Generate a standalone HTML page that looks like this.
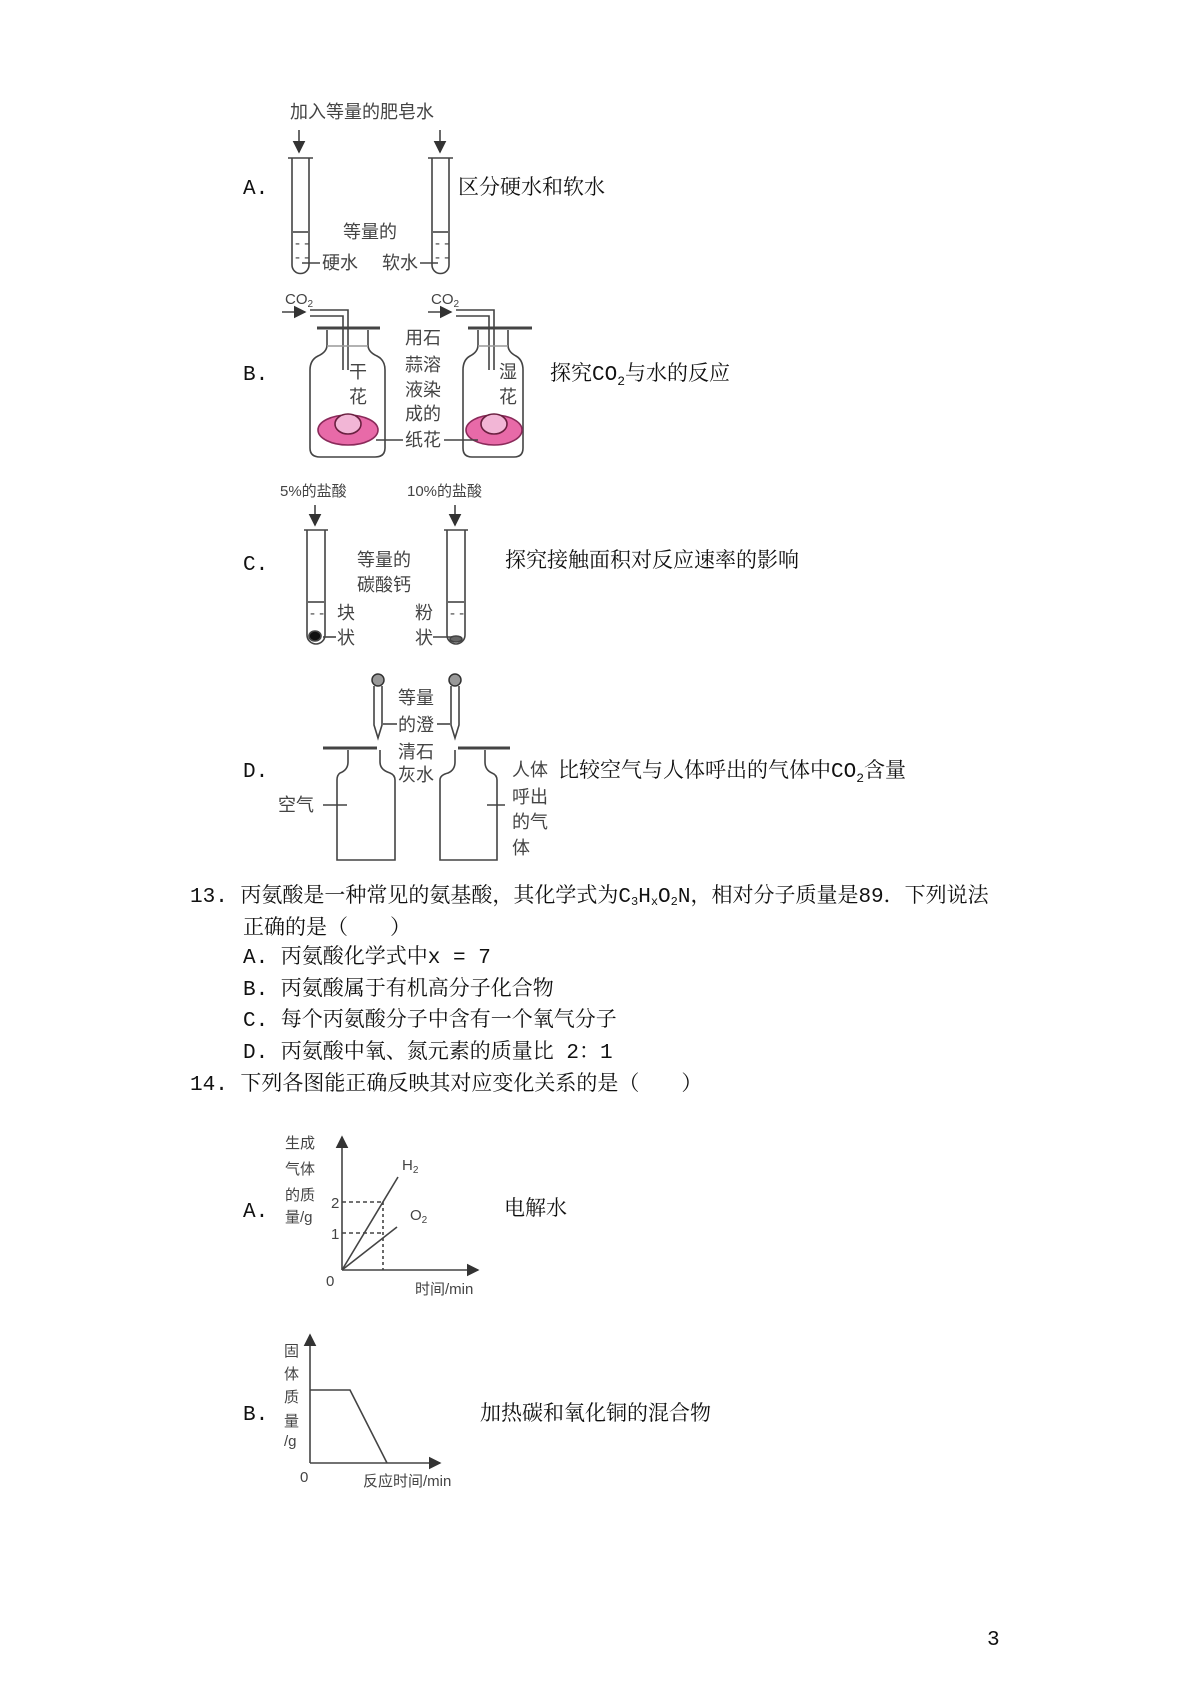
<!DOCTYPE html>
<html><head><meta charset="utf-8"><style>
html,body{margin:0;padding:0;background:#fff;}
svg{display:block;}
.t{font-family:"Liberation Mono","Noto Serif CJK SC",serif;font-size:21px;fill:#111;}
.d{font-family:"Liberation Sans","Noto Sans CJK SC",sans-serif;font-size:18px;fill:#444;}
.s{font-family:"Liberation Sans","Noto Sans CJK SC",sans-serif;font-size:15px;fill:#444;}
line,path,polyline,rect,ellipse{stroke:#444;stroke-width:1.6;fill:none;}
</style></head><body>
<svg width="1200" height="1698" viewBox="0 0 1200 1698" xmlns="http://www.w3.org/2000/svg">
<defs><marker id="ar" markerWidth="8" markerHeight="8" refX="7" refY="4" orient="auto"><path d="M0,0 L8,4 L0,8 z" style="fill:#333;stroke:none"/></marker></defs>

<!-- A -->
<text class="t" x="243" y="194">A.</text>
<text class="d" x="290" y="118">加入等量的肥皂水</text>
<line x1="299" y1="130" x2="299" y2="152" marker-end="url(#ar)"/>
<line x1="440" y1="130" x2="440" y2="152" marker-end="url(#ar)"/>
<path d="M292,158 V265 a8.5,8.5 0 0 0 17,0 V158 M288,158 h25"/>
<path d="M432,158 V265 a8.5,8.5 0 0 0 17,0 V158 M428,158 h25"/>
<line x1="293" y1="232" x2="308" y2="232"/><line x1="433" y1="232" x2="448" y2="232"/>
<text class="s" x="295" y="248">- -</text><text class="s" x="295" y="262">- -</text>
<text class="s" x="435" y="248">- -</text><text class="s" x="435" y="262">- -</text>
<text class="d" x="343" y="238">等量的</text>
<line x1="302" y1="263" x2="320" y2="263"/><text class="d" x="322" y="269">硬水</text>
<text class="d" x="382" y="269">软水</text><line x1="420" y1="263" x2="438" y2="263"/>
<text class="t" x="458" y="194">区分硬水和软水</text>

<!-- B -->
<text class="t" x="243" y="380">B.</text>
<text class="s" x="285" y="304">CO<tspan font-size="10" dy="3">2</tspan></text>
<text class="s" x="431" y="304">CO<tspan font-size="10" dy="3">2</tspan></text>
<line x1="282" y1="312" x2="305" y2="312" marker-end="url(#ar)"/>
<line x1="428" y1="312" x2="451" y2="312" marker-end="url(#ar)"/>
<path d="M310,310 H348 V370 M310,316 H343 V370"/>
<path d="M456,310 H494 V370 M456,316 H489 V370"/>
<g>
<line x1="317" y1="328" x2="380" y2="328" style="stroke-width:3"/>
<path d="M327,330 V345 Q327,352 318,356 Q310,360 310,370 V448 Q310,457 320,457 H375 Q385,457 385,448 V370 Q385,360 377,356 Q368,352 368,345 V330"/>
<line x1="327" y1="346" x2="368" y2="346" style="stroke:#999"/>
<line x1="468" y1="328" x2="532" y2="328" style="stroke-width:3"/>
<path d="M478,330 V345 Q478,352 470,356 Q463,360 463,370 V448 Q463,457 472,457 H514 Q523,457 523,448 V370 Q523,360 516,356 Q508,352 508,345 V330"/>
<line x1="478" y1="346" x2="508" y2="346" style="stroke:#999"/>
</g>
<ellipse cx="348" cy="430" rx="30" ry="15" style="fill:#e86aa8;stroke:#8a2a5a"/>
<ellipse cx="348" cy="424" rx="13" ry="10" style="fill:#f2b6d6;stroke:#6a2040"/>
<ellipse cx="494" cy="430" rx="28" ry="15" style="fill:#e86aa8;stroke:#8a2a5a"/>
<ellipse cx="494" cy="424" rx="13" ry="10" style="fill:#f2b6d6;stroke:#6a2040"/>
<text class="d" x="349" y="378">干</text><text class="d" x="349" y="403">花</text>
<text class="d" x="499" y="378">湿</text><text class="d" x="499" y="403">花</text>
<text class="d" x="405" y="344">用石</text><text class="d" x="405" y="371">蒜溶</text>
<text class="d" x="405" y="396">液染</text><text class="d" x="405" y="420">成的</text>
<text class="d" x="405" y="446">纸花</text>
<line x1="376" y1="440" x2="403" y2="440"/><line x1="444" y1="440" x2="478" y2="440"/>
<text class="t" x="550" y="380">探究CO<tspan font-size="13" dy="5">2</tspan><tspan dy="-5">与水的反应</tspan></text>

<!-- C -->
<text class="t" x="243" y="570">C.</text>
<text class="s" x="280" y="496">5%的盐酸</text>
<text class="s" x="407" y="496">10%的盐酸</text>
<line x1="315" y1="505" x2="315" y2="525" marker-end="url(#ar)"/>
<line x1="455" y1="505" x2="455" y2="525" marker-end="url(#ar)"/>
<path d="M307,530 V635 a9,9 0 0 0 18,0 V530 M304,530 h24"/>
<path d="M447,530 V635 a9,9 0 0 0 18,0 V530 M444,530 h24"/>
<line x1="308" y1="602" x2="324" y2="602"/><line x1="448" y1="602" x2="464" y2="602"/>
<text class="s" x="310" y="618">- -</text><text class="s" x="450" y="618">- -</text>
<ellipse cx="315" cy="636" rx="6" ry="5" style="fill:#111"/>
<ellipse cx="456" cy="639" rx="6" ry="3" style="fill:#666"/>
<text class="d" x="357" y="566">等量的</text><text class="d" x="357" y="591">碳酸钙</text>
<text class="d" x="337" y="619">块</text><text class="d" x="337" y="644">状</text>
<line x1="323" y1="637" x2="336" y2="637"/>
<text class="d" x="415" y="619">粉</text><text class="d" x="415" y="644">状</text>
<line x1="433" y1="637" x2="452" y2="637"/>
<text class="t" x="505" y="567">探究接触面积对反应速率的影响</text>

<!-- D -->
<text class="t" x="243" y="777">D.</text>
<circle cx="378" cy="680" r="6" style="fill:#999;stroke:#333;stroke-width:1.5"/>
<path d="M374,686 V725 L378,738 L382,725 V686"/>
<circle cx="455" cy="680" r="6" style="fill:#999;stroke:#333;stroke-width:1.5"/>
<path d="M451,686 V725 L455,738 L459,725 V686"/>
<line x1="383" y1="724" x2="397" y2="724"/><line x1="437" y1="724" x2="450" y2="724"/>
<text class="d" x="398" y="704">等量</text><text class="d" x="398" y="731">的澄</text>
<text class="d" x="398" y="758">清石</text><text class="d" x="398" y="781">灰水</text>
<line x1="323" y1="748" x2="377" y2="748" style="stroke-width:3"/>
<path d="M348,750 V762 Q348,770 340,773 Q337,775 337,780 V860 H395 V780 Q395,775 390,773 Q380,770 380,762 V750"/>
<line x1="458" y1="748" x2="510" y2="748" style="stroke-width:3"/>
<path d="M455,750 V762 Q455,770 448,773 Q440,775 440,780 V860 H497 V780 Q497,775 492,773 Q485,770 485,762 V750"/>
<text class="d" x="278" y="811">空气</text><line x1="323" y1="805" x2="347" y2="805"/>
<line x1="487" y1="805" x2="505" y2="805"/>
<text class="d" x="512" y="776">人体</text><text class="d" x="512" y="803">呼出</text>
<text class="d" x="512" y="828">的气</text><text class="d" x="512" y="854">体</text>
<text class="t" x="558" y="777">比较空气与人体呼出的气体中CO<tspan font-size="13" dy="5">2</tspan><tspan dy="-5">含量</tspan></text>

<!-- Q13 -->
<text class="t" x="190" y="902">13.  丙氨酸是一种常见的氨基酸，其化学式为C<tspan font-size="12" dy="3">3</tspan><tspan dy="-3">H</tspan><tspan font-size="12" dy="3">x</tspan><tspan dy="-3">O</tspan><tspan font-size="12" dy="3">2</tspan><tspan dy="-3">N，相对分子质量是89．下列说法</tspan></text>
<text class="t" x="243" y="934">正确的是（　　）</text>
<text class="t" x="243" y="963">A.  丙氨酸化学式中x = 7</text>
<text class="t" x="243" y="995">B.  丙氨酸属于有机高分子化合物</text>
<text class="t" x="243" y="1026">C.  每个丙氨酸分子中含有一个氧气分子</text>
<text class="t" x="243" y="1058">D.  丙氨酸中氧、氮元素的质量比 2：1</text>
<text class="t" x="190" y="1090">14.  下列各图能正确反映其对应变化关系的是（　　）</text>

<!-- Graph A -->
<text class="t" x="243" y="1217">A.</text>
<line x1="342" y1="1270" x2="342" y2="1137" marker-end="url(#ar)"/>
<line x1="342" y1="1270" x2="478" y2="1270" marker-end="url(#ar)"/>
<text class="s" x="285" y="1148">生成</text><text class="s" x="285" y="1174">气体</text>
<text class="s" x="285" y="1200">的质</text><text class="s" x="285" y="1222">量/g</text>
<text class="s" x="331" y="1208">2</text><text class="s" x="331" y="1239">1</text>
<text class="s" x="326" y="1286">0</text>
<line x1="342" y1="1202" x2="384" y2="1202" style="stroke-dasharray:4,3"/>
<line x1="342" y1="1233" x2="384" y2="1233" style="stroke-dasharray:4,3"/>
<line x1="383" y1="1202" x2="383" y2="1270" style="stroke-dasharray:3,3"/>
<line x1="342" y1="1270" x2="398" y2="1177"/>
<line x1="342" y1="1270" x2="397" y2="1227"/>
<text class="s" x="402" y="1170">H<tspan font-size="10" dy="3">2</tspan></text>
<text class="s" x="410" y="1220">O<tspan font-size="10" dy="3">2</tspan></text>
<text class="s" x="415" y="1294">时间/min</text>
<text class="t" x="504" y="1215">电解水</text>

<!-- Graph B -->
<text class="t" x="243" y="1420">B.</text>
<line x1="310" y1="1463" x2="310" y2="1335" marker-end="url(#ar)"/>
<line x1="310" y1="1463" x2="440" y2="1463" marker-end="url(#ar)"/>
<polyline points="310,1390 350,1390 387,1463"/>
<text class="s" x="284" y="1356">固</text><text class="s" x="284" y="1379">体</text>
<text class="s" x="284" y="1402">质</text><text class="s" x="284" y="1426">量</text>
<text class="s" x="284" y="1446">/g</text>
<text class="s" x="300" y="1482">0</text>
<text class="s" x="363" y="1486">反应时间/min</text>
<text class="t" x="480" y="1420">加热碳和氧化铜的混合物</text>

<text class="t" x="987" y="1645">3</text>
</svg>
</body></html>
